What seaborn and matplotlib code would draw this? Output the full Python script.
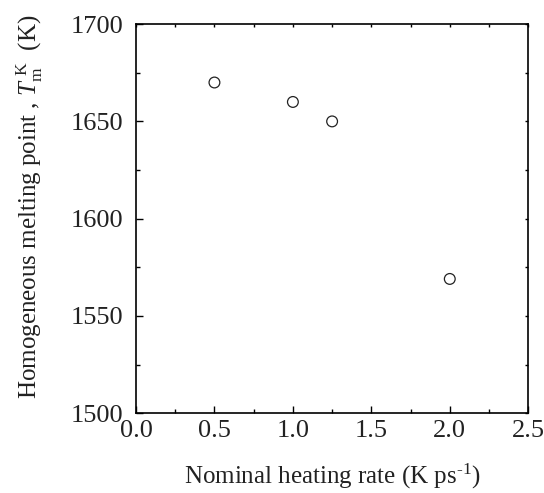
import numpy as np
import matplotlib.pyplot as plt
import seaborn as sns
from matplotlib.ticker import MultipleLocator

# 数据
rate = [0.5, 1.0, 1.25, 2.0]
tm = [1670, 1660, 1650, 1569]

sns.set_style('ticks')
plt.rcParams['font.family'] = ['Liberation Serif', 'DejaVu Serif']
plt.rcParams['mathtext.fontset'] = 'custom'
plt.rcParams['mathtext.rm'] = 'Liberation Serif'
plt.rcParams['mathtext.it'] = 'Liberation Serif:italic'

fig, ax = plt.subplots(figsize=(5.44, 4.93), dpi=100)
fig.subplots_adjust(left=0.25, right=0.971, top=0.951, bottom=0.162)

sns.scatterplot(x=rate, y=tm, ax=ax, marker='o', s=60,
                facecolor='none', edgecolor='#222222', linewidth=0.9)

ax.set_xlim(0, 2.5)
ax.set_ylim(1500, 1700)
ax.xaxis.set_major_locator(MultipleLocator(0.5))
ax.xaxis.set_minor_locator(MultipleLocator(0.25))
ax.yaxis.set_major_locator(MultipleLocator(50))
ax.yaxis.set_minor_locator(MultipleLocator(25))
ax.xaxis.set_major_formatter(plt.FormatStrFormatter('%.1f'))

ax.tick_params(which='both', direction='in', top=True, right=True,
               labelsize=19, width=1, color='black', labelcolor='#222222')
ax.tick_params(which='major', length=5)
ax.tick_params(which='minor', length=3)
ax.tick_params(axis='x', pad=5)
ax.tick_params(axis='y', pad=9)
# 上方和右侧的刻度很短
for t in ax.xaxis.get_major_ticks() + ax.xaxis.get_minor_ticks():
    t.tick2line.set_markersize(2)
for t in ax.yaxis.get_major_ticks() + ax.yaxis.get_minor_ticks():
    t.tick2line.set_markersize(2)
for s in ax.spines.values():
    s.set_linewidth(1.2)
    s.set_color('black')

ax.set_xlabel('Nominal heating rate (K ps$^{\\mathregular{\u2010}\\mathregular{1}}$)', fontsize=18,
              labelpad=14, color='#222222')
ax.set_ylabel('Homogeneous melting point , $T_{\\mathregular{m}}^{\\ \\mathregular{K}}$  (K)',
              fontsize=18, color='#222222')
ax.yaxis.set_label_coords(-0.232, 0.53)

fig.savefig('out.png', dpi=100)
